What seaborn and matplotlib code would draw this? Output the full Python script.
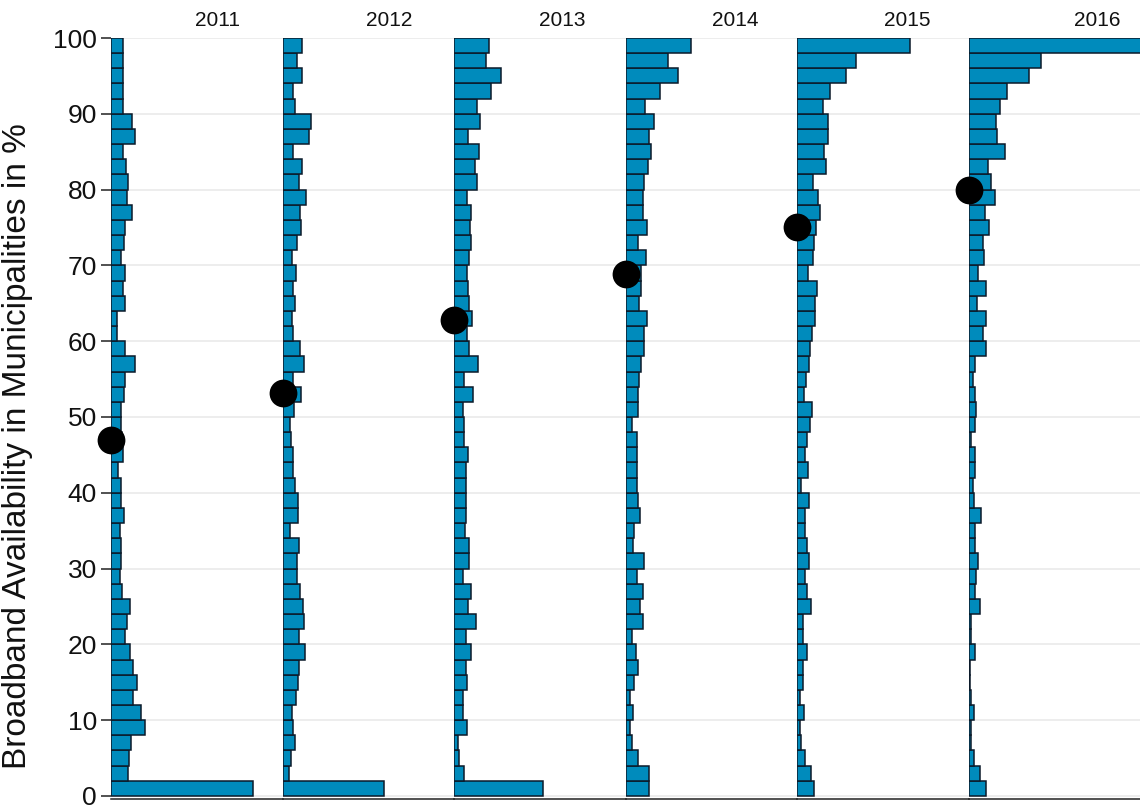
import numpy as np
import pandas as pd
import matplotlib
matplotlib.use("Agg")
import matplotlib.pyplot as plt
import seaborn as sns

# Broadband availability (share of households covered, %) binned in 2-point steps;
# each list holds the share of municipalities per bin, from the 0-2 bin up to 98-100.
years = [2011, 2012, 2013, 2014, 2015, 2016]
bin_lower = list(range(0, 100, 2))

share_2011 = [14.2, 1.73, 1.77, 2.0, 3.4, 2.97, 2.23, 2.57, 2.17, 1.9,
              1.43, 1.6, 1.9, 1.1, 0.9, 0.97, 1.0, 0.9, 1.33, 1.03,
              1.03, 0.67, 1.17, 1.1, 1.0, 1.0, 1.3, 1.43, 2.43, 1.4,
              0.63, 0.63, 1.4, 1.23, 1.4, 1.0, 1.3, 1.43, 2.1, 1.57,
              1.7, 1.47, 1.17, 2.37, 2.07, 1.17, 1.23, 1.17, 1.17, 1.17]
share_2012 = [10.1, 0.67, 0.83, 1.27, 1.0, 0.93, 1.3, 1.53, 1.67, 2.27,
              1.67, 2.1, 2.03, 1.7, 1.43, 1.43, 1.67, 0.7, 1.53, 1.53,
              1.27, 1.0, 1.03, 0.83, 0.77, 1.1, 1.83, 1.03, 2.17, 1.7,
              1.0, 0.93, 1.23, 1.0, 1.3, 0.93, 1.43, 1.8, 1.73, 2.3,
              1.6, 1.97, 1.03, 2.63, 2.87, 1.27, 1.0, 1.93, 1.43, 1.93]
share_2013 = [8.9, 0.97, 0.47, 0.4, 1.23, 0.83, 0.83, 1.23, 1.13, 1.63,
              1.13, 2.17, 1.33, 1.63, 0.9, 1.5, 1.5, 1.07, 1.13, 1.13,
              1.13, 1.13, 1.33, 0.93, 0.97, 0.9, 1.9, 0.93, 2.33, 1.5,
              1.23, 1.73, 1.47, 1.33, 1.23, 1.5, 1.63, 1.57, 1.67, 1.27,
              2.3, 2.03, 2.43, 1.33, 2.57, 2.3, 3.67, 4.67, 3.13, 3.5]
share_2014 = [2.33, 2.33, 1.17, 0.57, 0.43, 0.73, 0.4, 0.83, 1.17, 1.0,
              0.57, 1.7, 1.4, 1.7, 1.13, 1.77, 0.73, 0.8, 1.43, 1.23,
              1.07, 1.13, 1.13, 1.13, 0.57, 1.17, 1.17, 1.33, 1.5, 1.77,
              1.83, 2.1, 1.3, 1.5, 1.5, 1.97, 1.17, 2.13, 1.73, 1.7,
              1.83, 2.23, 2.47, 2.33, 2.8, 1.9, 3.4, 5.17, 4.17, 6.5]
share_2015 = [1.67, 1.4, 0.73, 0.4, 0.23, 0.63, 0.3, 0.57, 0.57, 0.97,
              0.57, 0.57, 1.4, 1.0, 0.73, 1.13, 1.0, 0.73, 0.8, 1.13,
              0.4, 1.07, 0.73, 1.0, 1.23, 1.47, 0.67, 0.9, 1.13, 1.3,
              1.5, 1.73, 1.8, 1.97, 1.07, 1.6, 1.63, 1.9, 2.23, 2.07,
              1.53, 2.9, 2.63, 3.07, 3.07, 2.57, 3.23, 4.83, 5.9, 11.3]
share_2016 = [1.73, 1.07, 0.5, 0.23, 0.17, 0.5, 0.17, 0.07, 0.07, 0.57,
              0.23, 0.17, 1.07, 0.57, 0.73, 0.9, 0.63, 0.57, 1.17, 0.5,
              0.4, 0.57, 0.57, 0.23, 0.63, 0.73, 0.57, 0.4, 0.57, 1.73,
              1.43, 1.73, 0.83, 1.73, 0.9, 1.5, 1.4, 1.97, 1.57, 2.57,
              2.17, 1.9, 3.63, 2.83, 2.67, 3.07, 3.8, 6.0, 7.17, 20.0]

mean_availability = [47.0, 53.2, 62.8, 68.9, 75.0, 79.9]

shares_by_year = [share_2011, share_2012, share_2013,
                  share_2014, share_2015, share_2016]

BAR_COLOR = "#008bbc"
EDGE_COLOR = "#0b1a2a"
GRID_COLOR = "#e8e8e8"

sns.set_style("white")
plt.rcParams["font.family"] = ["Liberation Sans", "DejaVu Sans"]

records = []
for year, shares in zip(years, shares_by_year):
    for lo, s in zip(bin_lower, shares):
        records.append({"year": year, "availability": lo + 1.0, "share": s})
df = pd.DataFrame(records)

g = sns.FacetGrid(df, col="year", sharex=True, sharey=True,
                  height=8, aspect=0.2, despine=False)

fig = g.figure
fig.set_size_inches(11.4, 8.11)
FIG_W, FIG_H = 1140.0, 811.0

panel_left0 = 111.0
panel_step = 171.6
panel_w = 171.6
panel_top = 38.0
panel_bottom = 799.0
title_x = [0.618, 0.62, 0.63, 0.635, 0.64, 0.75]

for i, (ax, year, m) in enumerate(zip(g.axes.flat, years, mean_availability)):
    sub = df[df["year"] == year]
    sns.histplot(data=sub, y="availability", weights="share",
                 bins=50, binrange=(0, 100), color=BAR_COLOR, alpha=1,
                 edgecolor=EDGE_COLOR, linewidth=1.1, ax=ax)
    sns.scatterplot(x=[0.0], y=[m], ax=ax, s=400, color="black",
                    edgecolor="black", linewidth=0, clip_on=False,
                    zorder=6, legend=False)
    ax.set_xlim(0, panel_w / 10.0)
    ax.set_ylim(-0.4, 100)
    ax.set_yticks(range(0, 101, 10))
    ax.set_xticks([])
    ax.set_xlabel("")
    ax.set_ylabel("")
    ax.set_facecolor("none")
    ax.yaxis.grid(True, color=GRID_COLOR, linewidth=1.1)
    ax.xaxis.grid(False)
    ax.set_axisbelow(True)
    for side in ("top", "right", "left"):
        ax.spines[side].set_visible(False)
    ax.spines["bottom"].set_visible(True)
    ax.spines["bottom"].set_color("#222222")
    ax.spines["bottom"].set_linewidth(1.1)
    ax.set_title(str(year), fontsize=15, pad=9, x=title_x[i],
                 color="#111111")
    if i == 0:
        ax.tick_params(axis="y", left=True, labelleft=True, length=7,
                       width=1.1, color="#222222", labelsize=19, pad=3,
                       labelcolor="#111111")
        ax.set_ylabel("Broadband Availability in Municipalities in %",
                      fontsize=24, color="#111111")
        ax.yaxis.set_label_coords(-0.455, 0.464)
    else:
        ax.tick_params(axis="y", left=False, labelleft=False)
    left = panel_left0 + i * panel_step
    ax.set_position([left / FIG_W, 1 - panel_bottom / FIG_H,
                     panel_w / FIG_W, (panel_bottom - panel_top) / FIG_H])

fig.savefig("out.png", dpi=100)
